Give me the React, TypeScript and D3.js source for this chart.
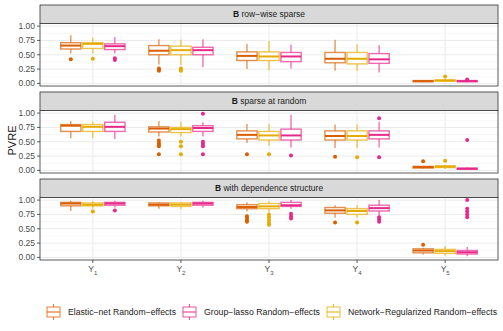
import React from "react";
import * as d3 from "d3";

// outcomes on the x axis (Y with subscript)
const outcomes = ["1", "2", "3", "4", "5"];
const methods = ["Elastic-net Random-effects", "Group-lasso Random-effects", "Network-Regularized Random-effects"];
const methodColors = ["#D95F02", "#E7298A", "#E6AB02"];
// left-to-right order of the boxes inside each outcome group
const dodgeOrder = [0, 2, 1];
const panelTitles = ["row\u2212wise sparse", "sparse at random", "with dependence structure"];
const yTicks = [0, 0.25, 0.5, 0.75, 1];

// box stats per outcome: [lower whisker, q1, median, q3, upper whisker]
const rowElastic = [[0.52, 0.6, 0.66, 0.71, 0.84], [0.33, 0.5, 0.57, 0.66, 0.77], [0.25, 0.4, 0.48, 0.55, 0.69], [0.22, 0.36, 0.43, 0.54, 0.76], [0.02, 0.03, 0.04, 0.05, 0.06]];
const rowGroup = [[0.52, 0.59, 0.65, 0.69, 0.81], [0.28, 0.5, 0.58, 0.63, 0.77], [0.26, 0.38, 0.47, 0.54, 0.68], [0.19, 0.35, 0.42, 0.52, 0.67], [0.02, 0.03, 0.04, 0.05, 0.06]];
const rowNetwork = [[0.52, 0.61, 0.69, 0.71, 0.8], [0.32, 0.5, 0.58, 0.65, 0.76], [0.23, 0.4, 0.47, 0.55, 0.74], [0.22, 0.34, 0.43, 0.54, 0.68], [0.03, 0.04, 0.05, 0.06, 0.08]];
const rowElasticOut = [[0.42], [0.22, 0.24, 0.26], [], [], []];
const rowGroupOut = [[0.41, 0.44], [], [], [], [0.07]];
const rowNetworkOut = [[0.43], [0.22, 0.24, 0.26], [], [], [0.12]];

const randElastic = [[0.56, 0.68, 0.78, 0.8, 0.86], [0.59, 0.67, 0.73, 0.76, 0.86], [0.48, 0.55, 0.62, 0.69, 0.81], [0.39, 0.53, 0.6, 0.69, 0.8], [0.03, 0.04, 0.06, 0.07, 0.08]];
const randGroup = [[0.55, 0.68, 0.76, 0.84, 0.97], [0.59, 0.68, 0.74, 0.78, 0.84], [0.4, 0.53, 0.61, 0.72, 0.97], [0.4, 0.55, 0.62, 0.69, 0.85], [0.01, 0.02, 0.03, 0.04, 0.05]];
const randNetwork = [[0.56, 0.68, 0.76, 0.8, 0.85], [0.59, 0.66, 0.72, 0.75, 0.85], [0.43, 0.53, 0.61, 0.68, 0.81], [0.39, 0.53, 0.6, 0.69, 0.8], [0.03, 0.05, 0.065, 0.08, 0.09]];
const randElasticOut = [[], [0.28, 0.42, 0.45, 0.48, 0.52], [0.28], [0.24], [0.16]];
const randGroupOut = [[], [0.28, 0.42, 0.46, 0.5, 0.99], [0.26], [0.23, 0.91], [0.53]];
const randNetworkOut = [[], [0.28, 0.42, 0.5], [0.28], [0.23], [0.17]];

const depElastic = [[0.81, 0.9, 0.94, 0.96, 0.99], [0.85, 0.9, 0.92, 0.95, 0.96], [0.8, 0.85, 0.88, 0.92, 0.96], [0.69, 0.77, 0.82, 0.87, 0.91], [0.05, 0.08, 0.12, 0.15, 0.17]];
const depGroup = [[0.87, 0.91, 0.94, 0.96, 0.99], [0.87, 0.91, 0.94, 0.96, 0.99], [0.85, 0.89, 0.91, 0.96, 1.0], [0.73, 0.81, 0.86, 0.91, 1.0], [0.02, 0.06, 0.09, 0.12, 0.18]];
const depNetwork = [[0.85, 0.9, 0.92, 0.95, 0.98], [0.84, 0.89, 0.92, 0.95, 0.96], [0.79, 0.85, 0.89, 0.94, 0.98], [0.69, 0.75, 0.81, 0.85, 0.91], [0.03, 0.07, 0.11, 0.14, 0.2]];
const depElasticOut = [[], [], [0.62, 0.64, 0.68, 0.72], [0.61], [0.22]];
const depGroupOut = [[0.82], [], [0.68, 0.72, 0.76], [0.62, 0.66, 0.7], [0.7, 0.75, 0.8, 0.85, 1.0]];
const depNetworkOut = [[0.8], [], [0.57, 0.6, 0.65, 0.7, 0.75], [0.61], []];

const panelStats = [
  [rowElastic, rowGroup, rowNetwork],
  [randElastic, randGroup, randNetwork],
  [depElastic, depGroup, depNetwork],
];
const panelOutliers = [
  [rowElasticOut, rowGroupOut, rowNetworkOut],
  [randElasticOut, randGroupOut, randNetworkOut],
  [depElasticOut, depGroupOut, depNetworkOut],
];

const W = 503;
const H = 331;
const left = 40;
const right = 498;
const stripH = 18.5;
const plotH = 62.5;
const panelTops = [5, 92, 179];
const font = "'Liberation Sans', Arial, sans-serif";

const x = d3.scaleLinear().domain([0.4, 5.6]).range([left, right]);
const dodge = 0.25;
const boxW = 0.23;

const App = () => {
  const panels = panelTitles.map((title, p) => {
    const top = panelTops[p];
    const plotTop = top + stripH;
    const plotBot = plotTop + plotH;
    const y = d3.scaleLinear().domain([-0.045, 1.045]).range([plotBot, plotTop]);
    const minor = d3.range(0.125, 1, 0.25);
    return (
      <g key={title}>
        <rect x={left} y={top} width={right - left} height={stripH} fill="#D9D9D9" stroke="#333" strokeWidth={0.8} />
        <text x={(left + right) / 2} y={top + stripH / 2 + 3.2} textAnchor="middle" fontSize={8.5} fill="#1A1A1A" fontFamily={font}>
          <tspan fontWeight="bold">B</tspan> {title}
        </text>
        <rect x={left} y={plotTop} width={right - left} height={plotH} fill="#fff" />
        {minor.map((v) => (
          <line key={"mi" + v} x1={left} x2={right} y1={y(v)} y2={y(v)} stroke="#F2F2F2" strokeWidth={0.6} />
        ))}
        {yTicks.map((v) => (
          <line key={"ma" + v} x1={left} x2={right} y1={y(v)} y2={y(v)} stroke="#EBEBEB" strokeWidth={1} />
        ))}
        {outcomes.map((o, i) => (
          <line key={"vx" + o} x1={x(i + 1)} x2={x(i + 1)} y1={plotTop} y2={plotBot} stroke="#EBEBEB" strokeWidth={1} />
        ))}
        {dodgeOrder.map((m, k) => {
          const c = methodColors[m];
          return outcomes.map((o, i) => {
            const [lo, q1, med, q3, hi] = panelStats[p][m][i];
            const cx = x(i + 1 + (k - 1) * dodge);
            const x0 = cx - (boxW / 2) * (x(1) - x(0));
            const bw = boxW * (x(1) - x(0));
            return (
              <g key={m + "-" + o}>
                <line x1={cx} x2={cx} y1={y(hi)} y2={y(q3)} stroke={c} strokeOpacity={0.75} strokeWidth={1.2} />
                <line x1={cx} x2={cx} y1={y(q1)} y2={y(lo)} stroke={c} strokeOpacity={0.75} strokeWidth={1.2} />
                <rect x={x0} y={y(q3)} width={bw} height={Math.max(y(q1) - y(q3), 0.5)} fill="#fff" stroke={c} strokeOpacity={0.7} strokeWidth={1.4} />
                <line x1={x0} x2={x0 + bw} y1={y(med)} y2={y(med)} stroke={c} strokeWidth={2} />
                {panelOutliers[p][m][i].map((v, j) => (
                  <circle key={j} cx={cx} cy={y(v)} r={2} fill={c} />
                ))}
              </g>
            );
          });
        })}
        <rect x={left} y={plotTop} width={right - left} height={plotH} fill="none" stroke="#333" strokeWidth={0.8} />
        {yTicks.map((v) => (
          <g key={"t" + v}>
            <line x1={left - 3} x2={left} y1={y(v)} y2={y(v)} stroke="#333" strokeWidth={0.8} />
            <text x={left - 5} y={y(v) + 3} textAnchor="end" fontSize={8.5} fill="#4D4D4D" fontFamily={font}>
              {v.toFixed(2)}
            </text>
          </g>
        ))}
      </g>
    );
  });

  const bottom = panelTops[2] + stripH + plotH;
  const legendY = 312;
  const legendX = [47, 183, 327];

  return (
    <svg width={W} height={H} style={{ position: "absolute", left: 0, top: 0 }} fontFamily={font}>
      <rect width={W} height={H} fill="#fff" />
      {panels}
      {outcomes.map((o, i) => (
        <g key={"xt" + o}>
          <line x1={x(i + 1)} x2={x(i + 1)} y1={bottom} y2={bottom + 3} stroke="#333" strokeWidth={0.8} />
          <text x={x(i + 1)} y={bottom + 12} textAnchor="middle" fontSize={8.5} fill="#4D4D4D">
            Y<tspan fontSize={6} dy={2.5}>{o}</tspan>
          </text>
        </g>
      ))}
      <text transform={`translate(16,${(panelTops[0] + bottom) / 2 + 8}) rotate(-90)`} textAnchor="middle" fontSize={11} fill="#1A1A1A">
        PVRE
      </text>
      {methods.map((name, m) => {
        const lx = legendX[m];
        const c = methodColors[m];
        return (
          <g key={name}>
            <line x1={lx + 6.5} x2={lx + 6.5} y1={legendY - 8} y2={legendY + 8} stroke={c} strokeOpacity={0.8} strokeWidth={1} />
            <rect x={lx} y={legendY - 5} width={13} height={10} fill="#fff" stroke={c} strokeOpacity={0.8} strokeWidth={1} />
            <line x1={lx} x2={lx + 13} y1={legendY} y2={legendY} stroke={c} strokeWidth={1} />
            <text x={lx + 21} y={legendY + 3.3} fontSize={8.5} fill="#1A1A1A" textLength={[108, 116, 149][m]} lengthAdjust="spacingAndGlyphs">
              {name.replace(/-/g, "\u2212")}
            </text>
          </g>
        );
      })}
    </svg>
  );
};

export default App;
